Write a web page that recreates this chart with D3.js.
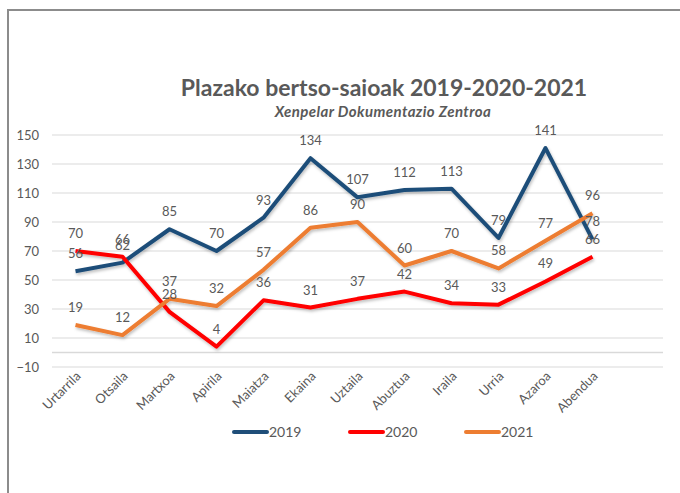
<!DOCTYPE html>
<html>
<head>
<meta charset="utf-8">
<script src="https://cdn.jsdelivr.net/npm/d3@7"></script>
<style>
  html, body { margin: 0; padding: 0; background: #fff; }
  svg { display: block; font-family: Lato, "Open Sans", sans-serif; }
</style>
</head>
<body>
<div id="chart"></div>
<script>
const months = ["Urtarrila", "Otsaila", "Martxoa", "Apirila", "Maiatza", "Ekaina",
    "Uztaila", "Abuztua", "Iraila", "Urria", "Azaroa", "Abendua"];
const years = ["2019", "2020", "2021"];
const values2019 = [56, 62, 85, 70, 93, 134, 107, 112, 113, 79, 141, 78];
const values2020 = [70, 66, 28, 4, 36, 31, 37, 42, 34, 33, 49, 66];
const values2021 = [19, 12, 37, 32, 57, 86, 90, 60, 70, 58, 77, 96];
const yTicks = [-10, 10, 30, 50, 70, 90, 110, 130, 150];
const colors = ["#1f4e79", "#ff0000", "#ed7d31"];

const series = [values2019, values2020, values2021].map((vals, i) => ({
    name: years[i],
    color: colors[i],
    values: vals.map((v, j) => ({month: months[j], value: v})),
}));

const width = 680;
const height = 493;
const plotLeft = 52;
const plotRight = 616;
const gridRight = 663;
const plotTop = 135;
const plotBottom = 367;
const textColor = "#595959";

const svg = d3.select("#chart")
    .append("svg")
    .attr("width", width)
    .attr("height", height);

// drop shadow like the office chart
const defs = svg.append("defs");
const filter = defs.append("filter")
    .attr("id", "shadow")
    .attr("x", "-5%").attr("y", "-5%")
    .attr("width", "110%").attr("height", "120%");
filter.append("feDropShadow")
    .attr("dx", 1).attr("dy", 2)
    .attr("stdDeviation", 1.5)
    .attr("flood-color", "#000")
    .attr("flood-opacity", 0.25);

// frame
svg.append("path")
    .attr("d", `M8,${height} L8,10 L${width},10`)
    .attr("fill", "none")
    .attr("stroke", "#8c8c8c")
    .attr("stroke-width", 2);

const x = d3.scaleBand()
    .domain(months)
    .range([plotLeft, plotRight]);

const y = d3.scaleLinear()
    .domain([-10, 150])
    .range([plotBottom, plotTop]);

// gridlines
svg.append("g")
    .selectAll("line")
    .data(yTicks)
    .join("line")
    .attr("x1", plotLeft)
    .attr("x2", gridRight)
    .attr("y1", d => y(d))
    .attr("y2", d => y(d))
    .attr("stroke", "#d9d9d9")
    .attr("stroke-width", 1);

// category axis sits at zero
svg.append("line")
    .attr("x1", plotLeft)
    .attr("x2", gridRight)
    .attr("y1", y(0))
    .attr("y2", y(0))
    .attr("stroke", "#d9d9d9")
    .attr("stroke-width", 1.5);

// y axis labels
const yAxis = svg.append("g")
    .attr("transform", `translate(${plotLeft - 13},0)`)
    .call(d3.axisLeft(y).tickValues(yTicks).tickSize(0).tickPadding(0));
yAxis.select(".domain").remove();
yAxis.selectAll("text")
    .attr("fill", textColor)
    .attr("font-size", 13)
    .attr("font-family", "Lato, 'Open Sans', sans-serif");

// x axis labels, rotated
const xAxis = svg.append("g")
    .attr("transform", `translate(0,${plotBottom})`)
    .call(d3.axisBottom(x).tickSize(0).tickPadding(0));
xAxis.select(".domain").remove();
xAxis.selectAll("text")
    .attr("fill", textColor)
    .attr("font-size", 13)
    .attr("font-family", "Lato, 'Open Sans', sans-serif")
    .attr("text-anchor", "end")
    .attr("dy", null)
    .attr("transform", "translate(6,10) rotate(-45)");

const line = d3.line()
    .x(d => x(d.month) + x.bandwidth() / 2)
    .y(d => y(d.value));

svg.append("g")
    .attr("fill", "none")
    .attr("stroke-width", 4)
    .attr("stroke-linejoin", "round")
    .attr("filter", "url(#shadow)")
    .selectAll("path")
    .data(series)
    .join("path")
    .attr("stroke", d => d.color)
    .attr("d", d => line(d.values));

// data labels above each point
svg.append("g")
    .selectAll("g")
    .data(series)
    .join("g")
    .selectAll("text")
    .data(d => d.values)
    .join("text")
    .attr("x", d => x(d.month) + x.bandwidth() / 2)
    .attr("y", d => y(d.value) - 13)
    .attr("text-anchor", "middle")
    .attr("fill", textColor)
    .attr("font-size", 13)
    .text(d => d.value);

// title
svg.append("text")
    .attr("x", 384)
    .attr("y", 96)
    .attr("text-anchor", "middle")
    .attr("fill", textColor)
    .attr("font-size", 23)
    .attr("font-weight", "bold")
    .text("Plazako bertso-saioak 2019-2020-2021");

svg.append("text")
    .attr("x", 383)
    .attr("y", 117)
    .attr("text-anchor", "middle")
    .attr("fill", textColor)
    .attr("font-size", 15)
    .attr("font-weight", "bold")
    .attr("font-style", "italic")
    .attr("letter-spacing", 0.4)
    .text("Xenpelar Dokumentazio Zentroa");

// legend
const legendX = [234, 350, 466];
const legend = svg.append("g")
    .selectAll("g")
    .data(series)
    .join("g")
    .attr("transform", (d, i) => `translate(${legendX[i]},432)`);
legend.append("line")
    .attr("x1", 0)
    .attr("x2", 33)
    .attr("stroke", d => d.color)
    .attr("stroke-width", 4)
    .attr("stroke-linecap", "round");
legend.append("text")
    .attr("x", 35)
    .attr("y", 5)
    .attr("fill", textColor)
    .attr("font-size", 14)
    .text(d => d.name);
</script>
</body>
</html>
